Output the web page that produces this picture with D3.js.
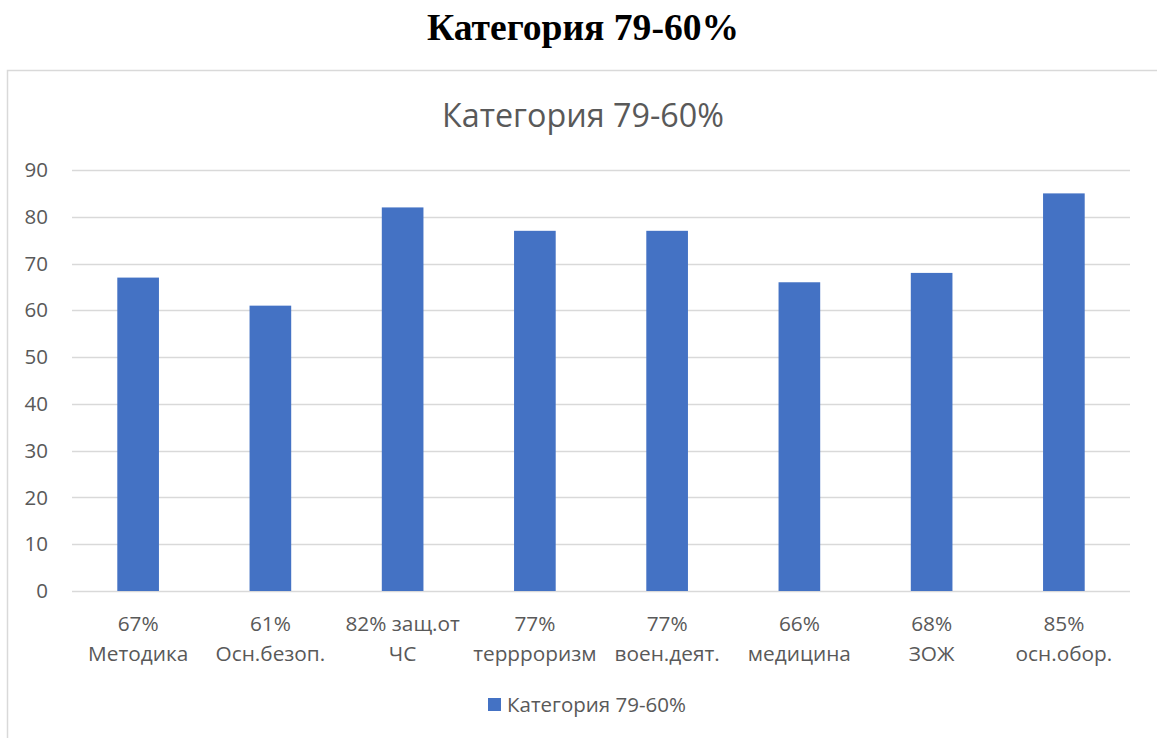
<!DOCTYPE html>
<html>
<head>
<meta charset="utf-8">
<script src="https://cdn.jsdelivr.net/npm/d3@7"></script>
<style>
  body { margin: 0; background: #fff; }
  svg { display: block; }
</style>
</head>
<body>
<div id="chart"></div>
<script>
const pageTitle = "Категория 79-60%";
const seriesName = "Категория 79-60%";
const categories = [
  ["67%", "Методика"],
  ["61%", "Осн.безоп."],
  ["82% защ.от", "ЧС"],
  ["77%", "террроризм"],
  ["77%", "воен.деят."],
  ["66%", "медицина"],
  ["68%", "ЗОЖ"],
  ["85%", "осн.обор."]
];
const values = [67, 61, 82, 77, 77, 66, 68, 85];
const yTicks = [0, 10, 20, 30, 40, 50, 60, 70, 80, 90];

const W = 1157, H = 738;
const plot = { left: 72, right: 1130, top: 170, bottom: 591 };
const textColor = "#595959";
const barColor = "#4472c4";
const font = "'Open Sans', sans-serif";

const svg = d3.select("#chart").append("svg")
  .attr("width", W)
  .attr("height", H);

// heading above the chart box
svg.append("text")
  .attr("x", 583)
  .attr("y", 40)
  .attr("text-anchor", "middle")
  .style("font-family", "'Liberation Serif', 'Times New Roman', serif")
  .style("font-weight", "bold")
  .style("font-size", "37.6px")
  .style("fill", "#000")
  .text(pageTitle);

// chart area border (runs off the right and bottom edges)
svg.append("rect")
  .attr("x", 7.5)
  .attr("y", 70.5)
  .attr("width", 1160)
  .attr("height", 680)
  .style("fill", "none")
  .style("stroke", "#d9d9d9")
  .style("stroke-width", 1.5);

svg.append("text")
  .attr("x", 583)
  .attr("y", 127)
  .attr("text-anchor", "middle")
  .style("font-family", font)
  .style("font-size", "32.3px")
  .style("fill", textColor)
  .text(seriesName);

const x = d3.scaleBand()
  .domain(d3.range(categories.length))
  .range([plot.left, plot.right])
  .paddingInner(0.685)
  .paddingOuter(0.3425);

const y = d3.scaleLinear()
  .domain([0, 90])
  .range([plot.bottom, plot.top]);

// gridlines
svg.append("g")
  .selectAll("line")
  .data(yTicks)
  .enter()
  .append("line")
  .attr("x1", plot.left)
  .attr("x2", plot.right)
  .attr("y1", d => Math.round(y(d)) + 0.5)
  .attr("y2", d => Math.round(y(d)) + 0.5)
  .style("stroke", "#d9d9d9")
  .style("stroke-width", 1.5);

const yAxis = svg.append("g")
  .attr("transform", `translate(${plot.left - 24},0)`)
  .call(d3.axisLeft(y).tickValues(yTicks).tickSize(0).tickPadding(0));
yAxis.select(".domain").remove();
yAxis.selectAll("text")
  .style("font-family", font)
  .style("font-size", "20.5px")
  .style("fill", textColor);

svg.append("g")
  .selectAll("rect")
  .data(values)
  .enter()
  .append("rect")
  .attr("x", (d, i) => x(i))
  .attr("y", d => y(d))
  .attr("width", x.bandwidth())
  .attr("height", d => y(0) - y(d))
  .style("fill", barColor);

// two-line category labels
const labels = svg.append("g")
  .selectAll("text")
  .data(categories)
  .enter()
  .append("text")
  .attr("text-anchor", "middle")
  .style("font-family", font)
  .style("font-size", "20.8px")
  .style("fill", textColor);

labels.each(function (d, i) {
  const cx = x(i) + x.bandwidth() / 2;
  d3.select(this).selectAll("tspan")
    .data(d)
    .enter()
    .append("tspan")
    .attr("x", cx)
    .attr("y", (t, j) => 631 + j * 29.5)
    .text(t => t);
});

// legend
const legend = svg.append("g");
legend.append("rect")
  .attr("x", 488)
  .attr("y", 698)
  .attr("width", 13)
  .attr("height", 13)
  .style("fill", barColor);
legend.append("text")
  .attr("x", 507)
  .attr("y", 712)
  .style("font-family", font)
  .style("font-size", "20.5px")
  .style("fill", textColor)
  .text(seriesName);
</script>
</body>
</html>
